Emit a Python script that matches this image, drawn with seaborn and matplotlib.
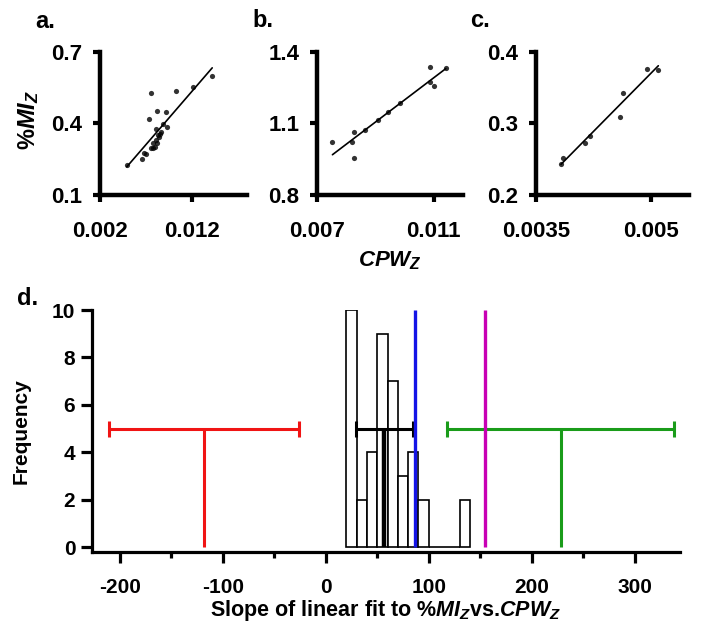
import numpy as np
import matplotlib
matplotlib.use('Agg')
import matplotlib.pyplot as plt
import seaborn as sns

# Panel a: CPW_z vs %MI_z
a_x = [0.00491, 0.00661, 0.0068, 0.00702, 0.00756, 0.00738, 0.00825, 0.0092, 0.01025, 0.01217,
       0.01421, 0.00934, 0.00884, 0.00811, 0.00865, 0.00829, 0.00847, 0.00811, 0.00781, 0.00825,
       0.00756, 0.00775, 0.0080, 0.00854]
a_y = [0.226, 0.249, 0.275, 0.270, 0.527, 0.418, 0.450, 0.449, 0.537, 0.553,
       0.599, 0.386, 0.396, 0.375, 0.365, 0.351, 0.342, 0.330, 0.319, 0.316,
       0.298, 0.295, 0.300, 0.355]

# Panel b
b_x = [0.00752, 0.00819, 0.00826, 0.00826, 0.00865, 0.0091, 0.00941, 0.00984, 0.01088, 0.01088, 0.01102, 0.01141]
b_y = [1.020, 1.020, 1.065, 0.953, 1.072, 1.114, 1.146, 1.184, 1.337, 1.274, 1.256, 1.330]

# Panel c
c_x = [0.003826, 0.003857, 0.004139, 0.004204, 0.004596, 0.00463, 0.004952, 0.005096]
c_y = [0.2428, 0.2512, 0.272, 0.2828, 0.3093, 0.3419, 0.3758, 0.3744]

# Panel d: histogram of slopes (bin edges and counts)
bin_edges = [20, 30, 40, 50, 60, 70, 80, 90, 100, 110, 120, 130, 140]
bin_counts = [10, 2, 4, 9, 7, 3, 4, 2, 0, 0, 0, 2]
# mean +/- sd markers
red_mean, red_sd = -118, 92
black_mean, black_sd = 57, 28
green_mean, green_sd = 228, 110
blue_x = 86.4
magenta_x = 155

sns.set_style('ticks')
plt.rcParams['font.family'] = ['Liberation Sans', 'DejaVu Sans']
plt.rcParams['font.weight'] = 'bold'
plt.rcParams['axes.unicode_minus'] = False
for k in ['text.color', 'axes.labelcolor', 'xtick.color', 'ytick.color', 'axes.edgecolor']:
    plt.rcParams[k] = 'black'
plt.rcParams['mathtext.fontset'] = 'custom'
plt.rcParams['mathtext.it'] = 'Liberation Sans:italic:bold'
plt.rcParams['mathtext.rm'] = 'Liberation Sans:bold'
plt.rcParams['mathtext.bf'] = 'Liberation Sans:bold'

fig = plt.figure(figsize=(7.02, 6.31), dpi=100)

top_specs = [
    ([0.1425, 0.691, 0.2094, 0.2271], a_x, a_y, (0.002, 0.018), (0.1, 0.7),
     [0.002, 0.012], ['0.002', '0.012'], [0.1, 0.4, 0.7], ['0.1', '0.4', '0.7']),
    ([0.452, 0.691, 0.2075, 0.2271], b_x, b_y, (0.007, 0.012), (0.8, 1.4),
     [0.007, 0.011], ['0.007', '0.011'], [0.8, 1.1, 1.4], ['0.8', '1.1', '1.4']),
    ([0.7635, 0.691, 0.2184, 0.2271], c_x, c_y, (0.0035, 0.0055), (0.2, 0.4),
     [0.0035, 0.005], ['0.0035', '0.005'], [0.2, 0.3, 0.4], ['0.2', '0.3', '0.4']),
]

top_axes = []
for rect, xs, ys, xl, yl, xt, xtl, yt, ytl in top_specs:
    ax = fig.add_axes(rect)
    sns.regplot(x=np.array(xs), y=np.array(ys), ax=ax, ci=None, color='black',
                scatter_kws={'s': 14, 'linewidths': 0},
                line_kws={'linewidth': 1.2})
    ax.set_xlim(*xl)
    ax.set_ylim(*yl)
    ax.set_xticks(xt)
    ax.set_xticklabels(xtl)
    ax.set_yticks(yt)
    ax.set_yticklabels(ytl)
    ax.set_xlabel('')
    ax.set_ylabel('')
    sns.despine(ax=ax)
    for s in ['left', 'bottom']:
        ax.spines[s].set_linewidth(3.2)
    ax.tick_params(axis='both', labelsize=16, width=3, length=5)
    ax.tick_params(axis='x', pad=14)
    ax.tick_params(axis='y', pad=8)
    for lab in ax.get_xticklabels() + ax.get_yticklabels():
        lab.set_fontweight('bold')
    top_axes.append(ax)

top_axes[0].set_ylabel(r'$\%MI_Z$', fontsize=17)
top_axes[0].yaxis.set_label_coords(-0.40, 0.52)
top_axes[1].set_xlabel(r'$CPW_Z$', fontsize=16)
top_axes[1].xaxis.set_label_coords(0.5, -0.38)

# Panel d
axd = fig.add_axes([0.131, 0.1252, 0.8376, 0.3835])
centers = [(bin_edges[i] + bin_edges[i + 1]) / 2 for i in range(len(bin_counts))]
sns.histplot(x=centers, weights=bin_counts, bins=bin_edges, ax=axd,
             color='white', edgecolor='black', linewidth=1.2, alpha=1)

axd.vlines(red_mean, 0, 5, color='#F01414', linewidth=2.2)
axd.errorbar(red_mean, 5, xerr=red_sd, color='#F01414', linewidth=2.2,
             capsize=6, capthick=2.2)
axd.vlines(green_mean, 0, 5, color='#1A9C1A', linewidth=2.2)
axd.errorbar(green_mean, 5, xerr=green_sd, color='#1A9C1A', linewidth=2.2,
             capsize=6, capthick=2.2)
axd.vlines(black_mean, 0, 5, color='black', linewidth=3.2, zorder=4)
axd.errorbar(black_mean, 5, xerr=black_sd, color='black', linewidth=2.2,
             capsize=6, capthick=2.2, zorder=4)
axd.vlines(blue_x, 0, 10, color='#1414E6', linewidth=2.4, zorder=5)
axd.vlines(magenta_x, 0, 10, color='#C800B4', linewidth=2.4, zorder=5)

axd.set_xlim(-227, 344)
axd.set_ylim(-0.2, 10)
axd.set_xticks([-200, -100, 0, 100, 200, 300])
axd.set_xticks([-150, -50, 50, 150, 250], minor=True)
axd.set_yticks([0, 2, 4, 6, 8, 10])
sns.despine(ax=axd)
for s in ['left', 'bottom']:
    axd.spines[s].set_linewidth(2.3)
axd.tick_params(axis='both', which='major', labelsize=15, width=2.3, length=8, pad=4)
axd.tick_params(axis='x', which='major', pad=11)
axd.tick_params(axis='x', which='minor', width=2.3, length=4)
for lab in axd.get_xticklabels() + axd.get_yticklabels():
    lab.set_fontweight('bold')
axd.set_ylabel('Frequency', fontsize=15, fontweight='bold')
axd.yaxis.set_label_coords(-0.105, 0.5)
axd.set_xlabel(r'Slope of linear fit to $\%MI_Z$vs.$CPW_Z$', fontsize=15.5, fontweight='bold')
axd.xaxis.set_label_coords(0.5, -0.19)

# panel letters
fig.text(35 / 702, 1 - 28 / 631, 'a.', fontsize=17, fontweight='bold')
fig.text(252 / 702, 1 - 27 / 631, 'b.', fontsize=17, fontweight='bold')
fig.text(470 / 702, 1 - 27 / 631, 'c.', fontsize=17, fontweight='bold')
fig.text(17 / 702, 1 - 305 / 631, 'd.', fontsize=17, fontweight='bold')

fig.savefig('out.png', dpi=100)
